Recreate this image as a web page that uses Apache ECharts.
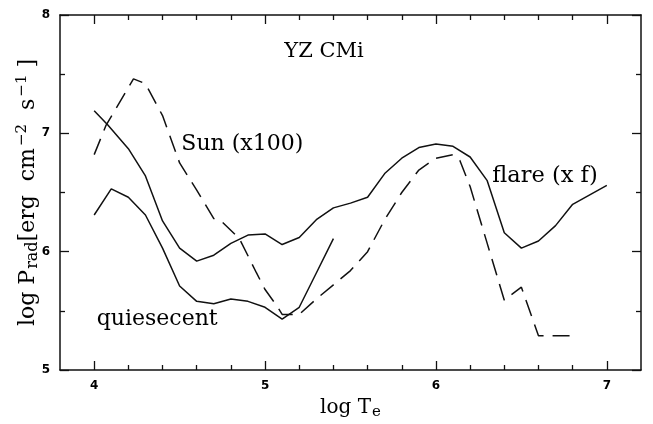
<!DOCTYPE html>
<html>
<head>
<meta charset="utf-8">
<script src="https://cdn.jsdelivr.net/npm/echarts@6/dist/echarts.min.js"></script>
<style>
html,body{margin:0;padding:0;background:#fff;}
#c{width:653px;height:424px;}
</style>
</head>
<body>
<div id="c"></div>
<script>
// ---- data ----
var flareT = [4.0, 4.08, 4.2, 4.3, 4.4, 4.5, 4.6, 4.7, 4.8, 4.9, 5.0, 5.1, 5.2, 5.3, 5.4, 5.5, 5.6, 5.7, 5.8, 5.9, 6.0, 6.1, 6.2, 6.3, 6.4, 6.5, 6.6, 6.7, 6.8, 6.9, 7.0];
var flareP = [7.19, 7.07, 6.87, 6.64, 6.26, 6.03, 5.92, 5.97, 6.07, 6.14, 6.15, 6.06, 6.12, 6.27, 6.37, 6.41, 6.46, 6.66, 6.79, 6.88, 6.91, 6.89, 6.80, 6.60, 6.16, 6.03, 6.09, 6.22, 6.40, 6.48, 6.56];

var quietT = [4.0, 4.1, 4.2, 4.3, 4.4, 4.5, 4.6, 4.7, 4.8, 4.9, 5.0, 5.1, 5.2, 5.3, 5.4];
var quietP = [6.31, 6.53, 6.46, 6.31, 6.03, 5.71, 5.58, 5.56, 5.60, 5.58, 5.53, 5.43, 5.53, 5.82, 6.11];

var sunT = [4.0, 4.07, 4.23, 4.3, 4.4, 4.5, 4.6, 4.7, 4.75, 4.85, 4.95, 5.0, 5.07, 5.1, 5.2, 5.3, 5.4, 5.5, 5.6, 5.7, 5.8, 5.9, 6.0, 6.1, 6.14, 6.2, 6.3, 6.4, 6.5, 6.6, 6.8];
var sunP = [6.82, 7.07, 7.46, 7.42, 7.15, 6.75, 6.52, 6.28, 6.25, 6.11, 5.82, 5.68, 5.54, 5.47, 5.47, 5.60, 5.72, 5.84, 6.00, 6.27, 6.50, 6.69, 6.79, 6.82, 6.77, 6.55, 6.07, 5.59, 5.70, 5.29, 5.29];

var annotText = ['YZ CMi', 'Sun (x100)', 'flare (x f)', 'quiesecent'];
var annotX = [5.345, 4.51, 6.33, 4.015];
var annotY = [7.695, 6.907, 6.636, 5.43];
var annotAlign = ['center', 'left', 'left', 'left'];
var annotSize = [21, 22, 22.5, 22];

var xMajor = [4, 5, 6, 7];
var xMinor = [4.2, 4.4, 4.6, 4.8, 5.2, 5.4, 5.6, 5.8, 6.2, 6.4, 6.6, 6.8];
var yMajor = [5, 6, 7, 8];
var yMinor = [5.5, 6.5, 7.5];

function zip(a, b) { return a.map(function (v, i) { return [v, b[i]]; }); }

var serif = '"DejaVu Serif", "Liberation Serif", serif';
var lineCol = '#111';

function mkX(pos, ticks, len, showLabel, showLine, extra) {
  var o = {
    type: 'value', position: pos, min: 3.8, max: 7.2, gridIndex: 0,
    axisLine: { show: showLine, onZero: false, lineStyle: { color: lineCol, width: 1.5 } },
    axisTick: { show: true, inside: true, length: len, customValues: ticks, lineStyle: { color: lineCol, width: 1.3 } },
    axisLabel: { show: showLabel, customValues: ticks, margin: 10, color: '#000', fontWeight: 'bold', fontSize: 12, fontFamily: '"DejaVu Sans", sans-serif' },
    splitLine: { show: false }
  };
  return Object.assign(o, extra || {});
}
function mkY(pos, ticks, len, showLabel, showLine, extra) {
  var o = {
    type: 'value', position: pos, min: 5, max: 8, gridIndex: 0,
    axisLine: { show: showLine, onZero: false, lineStyle: { color: lineCol, width: 1.5 } },
    axisTick: { show: true, inside: true, length: len, customValues: ticks, lineStyle: { color: lineCol, width: 1.3 } },
    axisLabel: { show: showLabel, customValues: ticks, margin: 10, color: '#000', fontWeight: 'bold', fontSize: 12, fontFamily: '"DejaVu Sans", sans-serif' },
    splitLine: { show: false }
  };
  return Object.assign(o, extra || {});
}

var chart = echarts.init(document.getElementById('c'), null, { renderer: 'canvas' });

var option = {
  animation: false,
  backgroundColor: '#fff',
  grid: { left: 60, right: 12, top: 15, bottom: 54, containLabel: false, outerBoundsMode: 'none' },
  xAxis: [
    mkX('bottom', xMajor, 9, true, true, {
      name: 'log T{sub|e}', nameLocation: 'middle', nameGap: 25, nameMoveOverlap: false,
      nameTextStyle: {
        fontFamily: serif, fontSize: 20, color: '#000', lineHeight: 26,
        rich: { sub: { fontFamily: serif, fontSize: 15, color: '#000', padding: [8, 0, 0, 1] } }
      }
    }),
    mkX('bottom', xMinor, 5, false, false),
    mkX('top', xMajor, 9, false, true),
    mkX('top', xMinor, 5, false, false)
  ],
  yAxis: [
    mkY('left', yMajor, 9, true, true, {
      name: 'log P{sub|rad}[erg  cm{sup|−2}  s{sup|−1} ]', nameLocation: 'middle', nameGap: 18, nameMoveOverlap: false,
      nameTextStyle: {
        fontFamily: serif, fontSize: 22, color: '#000', lineHeight: 28,
        rich: {
          sub: { fontFamily: serif, fontSize: 16, color: '#000', padding: [10, 0, 0, 1] },
          sup: { fontFamily: serif, fontSize: 15, color: '#000', padding: [0, 0, 12, 2] }
        }
      }
    }),
    mkY('left', yMinor, 5, false, false),
    mkY('right', yMajor, 9, false, true),
    mkY('right', yMinor, 5, false, false)
  ],
  series: [
    {
      name: 'flare', type: 'line', xAxisIndex: 0, yAxisIndex: 0, data: zip(flareT, flareP),
      showSymbol: false, symbol: 'none', lineStyle: { color: lineCol, width: 1.5 }
    },
    {
      name: 'quiescent', type: 'line', xAxisIndex: 0, yAxisIndex: 0, data: zip(quietT, quietP),
      showSymbol: false, symbol: 'none', lineStyle: { color: lineCol, width: 1.5 }
    },
    {
      name: 'Sun', type: 'line', xAxisIndex: 0, yAxisIndex: 0, data: zip(sunT, sunP),
      showSymbol: false, symbol: 'none', lineStyle: { color: lineCol, width: 1.5, type: [17, 9] }
    },
    {
      name: 'labels', type: 'scatter', xAxisIndex: 0, yAxisIndex: 0, symbolSize: 0, silent: true,
      data: annotText.map(function (t, i) {
        return {
          value: [annotX[i], annotY[i]], name: t,
          label: { show: true, position: 'inside', formatter: t, align: annotAlign[i], verticalAlign: 'middle',
                   fontFamily: serif, fontSize: annotSize[i], color: '#000', textBorderWidth: 0, opacity: 1 }
        };
      })
    }
  ]
};
chart.setOption(option);
</script>
</body>
</html>
